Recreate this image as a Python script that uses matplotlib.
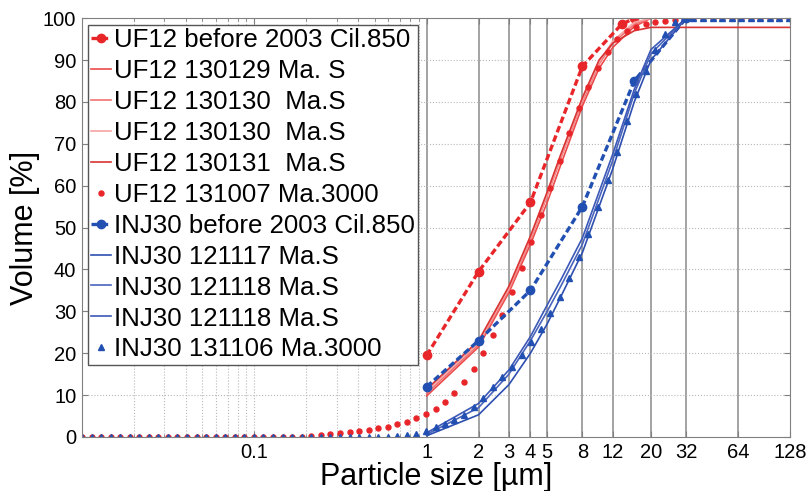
import numpy as np
from matplotlib import pyplot as plt
from matplotlib import rc
from matplotlib.ticker import FixedLocator, NullFormatter

rc('font', **{'family': 'sans-serif', 'sans-serif': ['Liberation Sans', 'DejaVu Sans']})

# Mastersizer 3000 size classes (um)
x_ma3000 = [0.0100, 0.0114, 0.0129, 0.0147, 0.0167, 0.0189, 0.0215, 0.0244, 0.0278, 0.0315,
            0.0358, 0.0407, 0.0463, 0.0526, 0.0597, 0.0679, 0.0771, 0.0876, 0.0995, 0.113,
            0.128, 0.146, 0.166, 0.188, 0.214, 0.243, 0.276, 0.314, 0.357, 0.405,
            0.460, 0.523, 0.594, 0.675, 0.767, 0.872, 0.991, 1.13, 1.28, 1.45,
            1.65, 1.88, 2.13, 2.42, 2.75, 3.12, 3.55, 4.03, 4.58, 5.21,
            5.92, 6.72, 7.64, 8.68, 9.86, 11.2, 12.7, 14.5, 16.4, 18.7,
            21.2, 24.1, 27.4, 31.1, 35.3, 40.1, 45.6, 51.8, 58.9, 66.9,
            76.0, 86.4, 98.1, 111, 127]

uf12_131007 = [0, 0, 0, 0, 0, 0, 0, 0, 0, 0,
               0, 0, 0, 0, 0, 0, 0, 0, 0, 0,
               0, 0, 0, 0.1, 0.2, 0.4, 0.6, 0.9, 1.1, 1.4,
               1.7, 2.1, 2.5, 3.0, 3.6, 4.5, 5.4, 6.8, 8.4, 10.6,
               13.2, 16.3, 20.1, 24.3, 29.1, 34.5, 40.4, 46.6, 53, 59.5,
               66, 72.5, 78.5, 83.5, 88, 92, 95, 97, 98, 98.5,
               99, 99.3, 99.6, 100, 100, 100, 100, 100, 100, 100,
               100, 100, 100, 100, 100]

inj30_131106 = [0, 0, 0, 0, 0, 0, 0, 0, 0, 0,
                0, 0, 0, 0, 0, 0, 0, 0, 0, 0,
                0, 0, 0, 0, 0, 0, 0, 0, 0, 0,
                0, 0, 0, 0.2, 0.4, 0.8, 1.4, 2.5, 3.1, 4.0,
                5.2, 7.2, 9.2, 12, 14.3, 16.8, 19.6, 22.7, 25.7, 29.5,
                33.5, 38, 43, 48.4, 54.8, 61.3, 68, 75.5, 82, 87.5,
                92.4, 96.2, 99.1, 100, 100, 100, 100, 100, 100, 100,
                100, 100, 100, 100, 100]

# Cilas 850 (before 2003)
x_uf12_cil = [1, 2, 4, 8, 13.5, 16]
uf12_cil = [19.5, 39.5, 56, 88.5, 98.5, 100]
x_inj30_cil = [1, 2, 4, 8, 16, 32]
inj30_cil = [12, 23, 35, 55, 85, 100]

# Mastersizer S
x_mas = [1, 2, 3, 4, 5, 6, 8, 10, 12, 16, 20, 32, 64, 128]
uf12_130129 = [9.8, 21.5, 34.5, 46, 56, 65, 79, 88, 93, 98, 100, 100, 100, 100]
uf12_130130a = [10.4, 22, 35, 47, 57.5, 66.5, 80, 89, 94, 98.5, 100, 100, 100, 100]
uf12_130130b = [11.0, 22.5, 35.5, 47.5, 58, 67, 80.5, 89.5, 94.5, 99, 100, 100, 100, 100]
uf12_130131 = [11.4, 23, 36, 48, 58.5, 67.5, 81, 90, 94, 97, 97.8, 97.8, 97.8, 97.8]
inj30_121117 = [0.3, 5.3, 12.5, 20, 27, 33.5, 44, 55, 64, 80, 90, 100, 100, 100]
inj30_121118a = [0.6, 7.0, 15, 23, 30, 36, 46, 57, 66, 82, 91.5, 100, 100, 100]
inj30_121118b = [1.0, 8.0, 16, 24, 31.5, 37.5, 47.5, 58.5, 67.5, 83, 92.5, 100, 100, 100]

red = '#e8262a'
blue = '#2250b2'

fig, ax = plt.subplots(figsize=(8.11, 4.91), dpi=100)
fig.subplots_adjust(left=0.101, right=0.974, bottom=0.11, top=0.963)

# grid
for v in [0.02, 0.03, 0.04, 0.05, 0.06, 0.07, 0.08, 0.09, 0.1,
          0.2, 0.3, 0.4, 0.5, 0.6, 0.7, 0.8, 0.9]:
    ax.axvline(v, color='#b8b8b8', lw=0.8, ls=':', zorder=0)
for v in [1, 2, 3, 4, 5, 8, 12, 20, 32, 64]:
    ax.axvline(v, color='#8a8a8a', lw=1.1, zorder=0)
for v in range(10, 100, 10):
    ax.axhline(v, color='#b8b8b8', lw=0.8, ls=':', zorder=0)

ax.plot(x_uf12_cil, uf12_cil, color=red, lw=2.4, ls=(0, (2, 1)), marker='o', ms=6,
        label='UF12 before 2003 Cil.850')
ax.plot(x_mas, uf12_130129, color='#ec4a4a', lw=1.2, label='UF12 130129 Ma. S')
ax.plot(x_mas, uf12_130130a, color='#f27272', lw=1.2, label='UF12 130130  Ma.S')
ax.plot(x_mas, uf12_130130b, color='#f6a3a3', lw=1.2, label='UF12 130130  Ma.S')
ax.plot(x_mas, uf12_130131, color='#d83434', lw=1.2, label='UF12 130131  Ma.S')
ax.plot(x_ma3000, uf12_131007, color=red, lw=0, marker='o', ms=3.6,
        label='UF12 131007 Ma.3000')
ax.plot(x_inj30_cil, inj30_cil, color=blue, lw=2.4, ls=(0, (2, 1)), marker='o', ms=6,
        label='INJ30 before 2003 Cil.850')
ax.plot(x_mas, inj30_121117, color='#2e4fb0', lw=1.2, label='INJ30 121117 Ma.S')
ax.plot(x_mas, inj30_121118a, color='#4a64bc', lw=1.2, label='INJ30 121118 Ma.S')
ax.plot(x_mas, inj30_121118b, color='#3b58b6', lw=1.2, label='INJ30 121118 Ma.S')
ax.plot(x_ma3000, inj30_131106, color=blue, lw=0, marker='^', ms=3.8,
        label='INJ30 131106 Ma.3000')

ax.set_xscale('log')
ax.set_xlim(0.01, 128)
ax.set_ylim(0, 100)

xt = [0.1, 1, 2, 3, 4, 5, 8, 12, 20, 32, 64, 128]
ax.xaxis.set_major_locator(FixedLocator(xt))
ax.set_xticklabels(['0.1', '1', '2', '3', '4', '5', '8', '12', '20', '32', '64', '128'])
ax.xaxis.set_minor_locator(FixedLocator([0.02, 0.03, 0.04, 0.05, 0.06, 0.07, 0.08, 0.09,
                                         0.2, 0.3, 0.4, 0.5, 0.6, 0.7, 0.8, 0.9]))
ax.xaxis.set_minor_formatter(NullFormatter())
ax.set_yticks(range(0, 101, 10))
ax.tick_params(which='both', direction='in', top=True, right=True, labelsize=14.5,
               colors='#808080', labelcolor='black', pad=4)
ax.tick_params(which='major', length=4)
ax.tick_params(which='minor', length=2.5)
for s in ax.spines.values():
    s.set_color('#808080')

ax.set_xlabel('Particle size [µm]', fontsize=22, labelpad=0)
ax.set_ylabel('Volume [%]', fontsize=22, labelpad=2)

leg = ax.legend(loc='upper left', bbox_to_anchor=(0, 1), borderaxespad=0.25,
                fontsize=18.6, handlelength=0.75, handletextpad=0.12, labelspacing=0.27,
                borderpad=0.12, numpoints=1, fancybox=False, framealpha=1)
leg.get_frame().set_edgecolor('#555555')
leg.get_frame().set_linewidth(1.0)

plt.savefig('out.png')
